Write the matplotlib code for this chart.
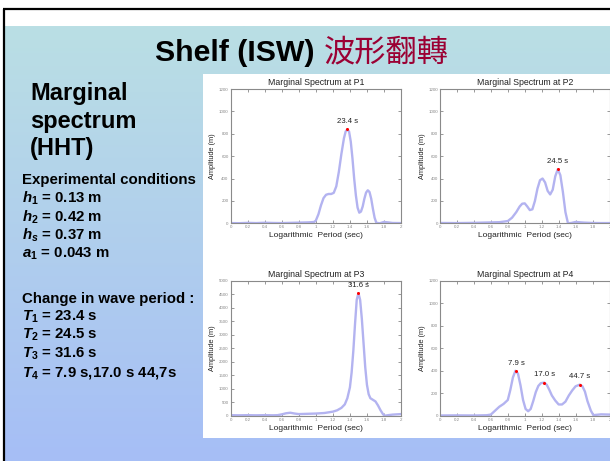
import numpy as np
import matplotlib
matplotlib.use("Agg")
import matplotlib.pyplot as plt
from matplotlib.patches import Rectangle

plt.rcParams['font.family'] = ['Liberation Sans', 'DejaVu Sans']
plt.rcParams['mathtext.fontset'] = 'custom'
plt.rcParams['mathtext.it'] = 'Liberation Sans:italic:bold'
plt.rcParams['mathtext.rm'] = 'Liberation Sans:bold'
plt.rcParams['mathtext.bf'] = 'Liberation Sans:bold'

# ---- marginal spectra (log10 period vs amplitude) ----
p1_x = [0, 0.1, 0.2, 0.3, 0.4, 0.5, 0.6, 0.7, 0.8, 0.9, 0.95, 0.98, 1.0, 1.03, 1.06,
        1.09, 1.12, 1.15, 1.18, 1.21, 1.24, 1.27, 1.30, 1.33, 1.35, 1.37, 1.39, 1.41,
        1.43, 1.45, 1.47, 1.49, 1.51, 1.53, 1.55, 1.57, 1.59, 1.61, 1.63, 1.65, 1.67,
        1.69, 1.71, 1.75, 1.8, 1.85, 1.9, 2.0]
p1_y = [2, 1, 4, 2, 5, 3, 2, 4, 6, 8, 10, 12, 25, 80, 160, 225, 255, 262, 262, 272,
        330, 460, 620, 760, 820, 840, 820, 730, 580, 400, 250, 140, 95, 105, 150, 220,
        275, 295, 280, 220, 130, 50, 5, 0, 12, 8, 3, 2]

p2_x = [0, 0.2, 0.4, 0.6, 0.7, 0.8, 0.85, 0.9, 0.94, 0.97, 1.0, 1.03, 1.06, 1.09,
        1.12, 1.15, 1.18, 1.21, 1.24, 1.27, 1.30, 1.33, 1.36, 1.39, 1.42, 1.45, 1.48,
        1.51, 1.55, 1.6, 1.7, 1.8, 1.9, 2.0]
p2_y = [3, 2, 4, 8, 10, 20, 50, 100, 150, 175, 178, 150, 118, 125, 200, 310, 385,
        400, 365, 290, 258, 300, 420, 483, 430, 280, 100, 0, 3, 12, 6, 3, 2, 2]

p3_x = [0, 0.1, 0.2, 0.3, 0.4, 0.5, 0.55, 0.6, 0.65, 0.7, 0.75, 0.8, 0.9, 1.0, 1.1,
        1.2, 1.25, 1.3, 1.34, 1.37, 1.40, 1.42, 1.44, 1.46, 1.48, 1.50, 1.52, 1.54,
        1.56, 1.58, 1.60, 1.62, 1.64, 1.67, 1.70, 1.73, 1.76, 1.79, 1.81, 1.85, 1.9, 2.0]
p3_y = [20, 15, 20, 15, 20, 15, 20, 50, 90, 110, 80, 60, 70, 80, 100, 150, 200, 290,
        420, 650, 1050, 1600, 2400, 3400, 4300, 4550, 4300, 3600, 2700, 1800, 1150,
        800, 650, 590, 530, 380, 200, 50, 0, 20, 40, 60]

p4_x = [0, 0.2, 0.4, 0.55, 0.6, 0.65, 0.7, 0.75, 0.8, 0.83, 0.86, 0.89, 0.92, 0.95,
        0.98, 1.01, 1.04, 1.07, 1.10, 1.13, 1.16, 1.19, 1.23, 1.26, 1.29, 1.32, 1.36,
        1.40, 1.44, 1.48, 1.52, 1.56, 1.60, 1.65, 1.68, 1.71, 1.74, 1.78, 1.81, 1.85,
        1.9, 2.0]
p4_y = [2, 3, 2, 4, 10, 45, 80, 105, 140, 230, 340, 400, 375, 270, 140, 60, 40, 60,
        130, 210, 265, 290, 295, 275, 230, 180, 135, 100, 100, 125, 180, 225, 262,
        277, 262, 215, 130, 45, 5, 8, 12, 10]

# ---- identified peaks: period (s) and amplitude ----
p1_peak_T, p1_peak_a = [23.4], [840]
p2_peak_T, p2_peak_a = [24.5], [483]
p3_peak_T, p3_peak_a = [31.6], [4550]
p4_peak_T, p4_peak_a = [7.9, 17.0, 44.7], [400, 295, 277]
p4_peak_text = ["7.9 s", "17.0 s", "44.7 s"]

panel_names = ["P1", "P2", "P3", "P4"]
x_ticks = [0, 0.2, 0.4, 0.6, 0.8, 1, 1.2, 1.4, 1.6, 1.8, 2]
y_ticks_small = [0, 200, 400, 600, 800, 1000, 1200]
y_ticks_big = list(range(0, 5001, 500))

W, H = 610, 461
fig = plt.figure(figsize=(W / 100, H / 100), dpi=100)

# ---- slide background ----
bg = fig.add_axes([0, 0, 1, 1])
bg.set_xlim(0, W)
bg.set_ylim(H, 0)
bg.axis('off')
top_c = np.array([186, 223, 228]) / 255
bot_c = np.array([166, 190, 246]) / 255
t = np.linspace(0, 1, 256)[:, None, None]
grad = top_c * (1 - t) + bot_c * t
bg.imshow(grad, extent=[4, W, H, 27], aspect='auto', origin='upper', zorder=0)
bg.add_patch(Rectangle((203, 74), W - 203, 438 - 74, facecolor='white',
                       edgecolor='none', zorder=1))
bg.plot([3, W], [9, 9], color='black', lw=1.6, zorder=2, solid_capstyle='butt')
bg.plot([4, 4], [9, H], color='black', lw=1.6, zorder=2, solid_capstyle='butt')

# title
bg.text(155, 61, "Shelf (ISW)", fontsize=21.8, fontweight='bold', color='black',
        ha='left', va='baseline', zorder=3)
bg.text(324, 61, "波形翻轉", fontsize=22.5, color='#9B0033', ha='left', va='baseline',
        family=['Noto Sans CJK TC', 'DejaVu Sans'], zorder=3)

# left column text
for txt, yb in [("Marginal", 100), ("spectrum", 128), ("(HHT)", 155)]:
    bg.text(30, yb, txt, fontsize=17, fontweight='bold', ha='left', va='baseline', zorder=3)

info_lines = [
    ("Experimental conditions", 184),
    (r"$h_1$ = 0.13 m", 203),
    (r"$h_2$ = 0.42 m", 221.5),
    (r"$h_s$ = 0.37 m", 240),
    (r"$a_1$ = 0.043 m", 258),
    ("Change in wave period :", 303),
    (r"$T_1$ = 23.4 s", 321),
    (r"$T_2$ = 24.5 s", 339),
    (r"$T_3$ = 31.6 s", 357.5),
    (r"$T_4$ = 7.9 s,17.0 s 44,7s", 376),
]
for txt, yb in info_lines:
    bg.text(22, yb, txt, fontsize=10.8, fontweight='bold', ha='left', va='baseline', zorder=3)

# ---- spectrum panels ----
def box(l, t_, r, b):
    return [l / W, 1 - b / H, (r - l) / W, (b - t_) / H]

line_c = '#b3b3f0'
panels = [
    (box(230.7, 89, 401, 223.3), p1_x, p1_y, p1_peak_T, p1_peak_a,
     [f"{v} s" for v in p1_peak_T], 1200, y_ticks_small),
    (box(440, 89, 609.5, 223.3), p2_x, p2_y, p2_peak_T, p2_peak_a,
     [f"{v} s" for v in p2_peak_T], 1200, y_ticks_small),
    (box(230.7, 281, 401, 415.7), p3_x, p3_y, p3_peak_T, p3_peak_a,
     [f"{v} s" for v in p3_peak_T], 5000, y_ticks_big),
    (box(440, 281, 609.5, 415.7), p4_x, p4_y, p4_peak_T, p4_peak_a,
     p4_peak_text, 1200, y_ticks_small),
]

for name, (rect, xs, ys, pT, pa, ptxt, ymax, yt) in zip(panel_names, panels):
    ax = fig.add_axes(rect)
    ax.plot(xs, ys, color=line_c, lw=1.7, solid_joinstyle='round')
    px = np.log10(pT)
    ax.plot(px, pa, 'o', color='red', ms=2.2, mec='none')
    for xv, yv, s in zip(px, pa, ptxt):
        ax.annotate(s, (xv, yv), xytext=(0, 3), textcoords='offset points',
                    ha='center', va='bottom', fontsize=5.6, color='#222222')
    ax.set_xlim(0, 2)
    ax.set_ylim(0, ymax)
    ax.set_xticks(x_ticks)
    ax.set_xticklabels([f"{v:g}" for v in x_ticks])
    ax.set_yticks(yt)
    ax.tick_params(direction='in', length=2, width=0.6, colors='#888888',
                   labelsize=3.2, pad=1.5, top=True, right=True, labelcolor='#888888')
    for sp in ax.spines.values():
        sp.set_color('#8a8a8a')
        sp.set_linewidth(0.8)
    ax.set_title(f"Marginal Spectrum at {name}", fontsize=6.3, pad=3, color='#222222')
    ax.set_xlabel("Logarithmic  Period (sec)", fontsize=6, labelpad=2, color='#222222')
    ax.set_ylabel("Amplitude (m)", fontsize=5.3, labelpad=2, color='#222222')

fig.savefig("out.png", dpi=100)
